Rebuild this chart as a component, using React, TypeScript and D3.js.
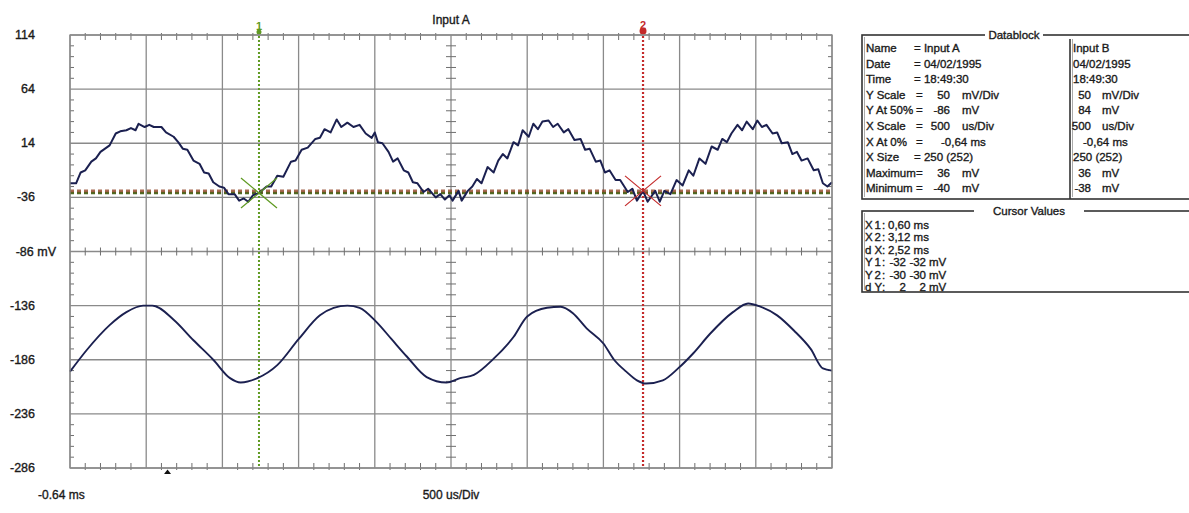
import React from 'react';
import * as d3 from 'd3';

const W = 1189;
const H = 513;
const PLOT = { left: 70, right: 832, top: 35, bottom: 468 };

// Acquisition settings
const X_AT_0_MS = -0.64;
const X_DIV_MS = 0.5;
const X_DIVS = 10;
const Y_DIV_MV = 50;
const Y_DIVS = 8;
const Y_AT_50_A = -86;
const Y_AT_50_B = 84;

const yTickLabels = [114, 64, 14, -36, -86, -136, -186, -236, -286];

// Channel A (rippled sine), time in ms, value in mV
const timeA = [
  -0.64, -0.6, -0.57, -0.54, -0.5, -0.47, -0.44, -0.38, -0.34, -0.31, -0.27, -0.24, -0.21, -0.19, -0.15, -0.12,
  -0.09, -0.04, -0.01, 0.04, 0.07, 0.1, 0.13, 0.17, 0.21, 0.24, 0.27, 0.3, 0.34, 0.37, 0.4, 0.44, 0.47, 0.5, 0.53,
  0.56, 0.6, 0.65, 0.68, 0.72, 0.76, 0.81, 0.84, 0.88, 0.92, 0.97, 1.0, 1.03, 1.07, 1.11, 1.14, 1.18, 1.22, 1.26,
  1.3, 1.34, 1.36, 1.38, 1.41, 1.45, 1.48, 1.51, 1.55, 1.58, 1.61, 1.64, 1.68, 1.71, 1.76, 1.79, 1.82, 1.85, 1.87,
  1.91, 1.93, 1.97, 2.0, 2.03, 2.06, 2.1, 2.14, 2.17, 2.2, 2.23, 2.27, 2.3, 2.33, 2.37, 2.4, 2.43, 2.46, 2.5, 2.53,
  2.56, 2.6, 2.63, 2.67, 2.71, 2.74, 2.77, 2.81, 2.84, 2.87, 2.9, 2.94, 2.97, 3.02, 3.05, 3.08, 3.12, 3.15, 3.2,
  3.23, 3.26, 3.3, 3.34, 3.38, 3.42, 3.45, 3.49, 3.53, 3.57, 3.61, 3.64, 3.67, 3.7, 3.74, 3.77, 3.8, 3.84, 3.87,
  3.9, 3.93, 3.97, 4.0, 4.03, 4.07, 4.1, 4.13, 4.16, 4.2, 4.24, 4.27, 4.3, 4.33, 4.36,
];
const inputA = [
  -23, -23, -13, -11, -3, 0, 6, 12, 23, 25, 26, 28, 26, 32, 29, 31,
  29, 29, 24, 20, 15, 9, 8, -2, -5, -13, -14, -22, -26, -27, -33, -33, -39, -37, -40,
  -34, -32, -26, -26, -16, -17, -3, -2, 8, 10, 18, 19, 27, 24, 36, 29, 33, 29, 31,
  23, 19, 24, 15, 14, 6, -3, 0, -11, -13, -22, -23, -31, -28, -36, -33, -38, -34, -39,
  -30, -39, -30, -26, -19, -23, -8, -13, -2, 4, 0, 15, 12, 26, 20, 32, 27, 34, 35, 29,
  32, 24, 27, 17, 18, 8, 9, -3, -2, -13, -11, -20, -20, -31, -28, -39, -30, -40, -30,
  -40, -30, -33, -20, -25, -11, -16, 0, -5, 11, 8, 18, 15, 23, 31, 26, 34, 27, 35,
  29, 31, 23, 24, 14, 15, 4, 6, -2, 0, -11, -10, -23, -26, -22,
];

// Channel B (clean sine), time in ms, value in mV
const timeB = [
  -0.64, -0.53, -0.38, -0.27, -0.16, -0.1, 0.04, 0.17, 0.3, 0.41, 0.48, 0.59, 0.72, 0.86, 1.0, 1.09, 1.18, 1.26,
  1.37, 1.47, 1.57, 1.7, 1.83, 1.92, 2.01, 2.14, 2.27, 2.36, 2.49, 2.58, 2.66, 2.75, 2.86, 2.93, 3.01, 3.08, 3.14,
  3.25, 3.35, 3.45, 3.56, 3.71, 3.81, 3.89, 4.0, 4.11, 4.22, 4.3, 4.36,
];
const inputB = [
  -27, -7, 16, 28, 34, 34, 21, 2, -16, -33, -37, -33, -21, 3, 25, 32, 34, 32,
  19, 3, -13, -32, -37, -33, -30, -15, 5, 24, 32, 33, 27, 13, -1, -16, -27, -35, -38,
  -35, -24, -10, 8, 28, 36, 33, 25, 11, -6, -24, -26,
];

// Cursor readings
const cursorTimes = [0.6, 3.12];
const cursorLevelsA = [-32, -30];
const cursorLevelsB = [-32, -30];

const recordDate = '04/02/1995';
const recordTime = '18:49:30';
const recordSize = '250 (252)';

const FONT = "'Liberation Sans', Arial, sans-serif";
const TRACE = '#1b2050';
const GRID = '#8a8a8a';
const GREEN = '#5f9a22';
const RED = '#c42a2a';
const INK = '#1a1a1a';

const fmtComma = (v: number) => v.toFixed(2).replace('.', ',');

export default function App() {
  const xEnd = X_AT_0_MS + X_DIVS * X_DIV_MS;
  const yTop = Y_AT_50_A + (Y_DIVS / 2) * Y_DIV_MV;
  const yBot = Y_AT_50_A - (Y_DIVS / 2) * Y_DIV_MV;
  const x = d3.scaleLinear().domain([X_AT_0_MS, xEnd]).range([PLOT.left, PLOT.right]);
  const y = d3.scaleLinear().domain([yBot, yTop]).range([PLOT.bottom, PLOT.top]);
  const offsetB = Y_AT_50_B - Y_AT_50_A;

  const lineA = d3
    .line<number>()
    .x((_, i) => x(timeA[i]))
    .y((d) => y(d));
  const lineB = d3
    .line<number>()
    .x((_, i) => x(timeB[i]))
    .y((d) => y(d - offsetB))
    .curve(d3.curveMonotoneX);

  const xMajor = d3.range(X_DIVS + 1).map((i) => X_AT_0_MS + i * X_DIV_MS);
  const yMajor = d3.range(Y_DIVS + 1).map((i) => yBot + i * Y_DIV_MV);
  const xMinor = d3.range(X_DIVS * 5 + 1).map((i) => X_AT_0_MS + (i * X_DIV_MS) / 5);
  const yMinor = d3.range(Y_DIVS * 5 + 1).map((i) => yBot + (i * Y_DIV_MV) / 5);
  const xMid = x(X_AT_0_MS + (X_DIVS / 2) * X_DIV_MS);
  const yMid = y(Y_AT_50_A);

  const maxA = d3.max(inputA)!;
  const minA = d3.min(inputA)!;
  const maxB = d3.max(inputB)!;
  const minB = d3.min(inputB)!;

  const dX = cursorTimes[1] - cursorTimes[0];
  const dYA = cursorLevelsA[1] - cursorLevelsA[0];
  const dYB = cursorLevelsB[1] - cursorLevelsB[0];

  // Datablock rows: label, channel A text parts, channel B text parts
  const rows: { label: string; eq: string; a?: string; au?: string; aStr?: string; b?: string; bu?: string; bStr?: string }[] = [
    { label: 'Name', eq: '= Input A', bStr: 'Input B' },
    { label: 'Date', eq: '= ' + recordDate, bStr: recordDate },
    { label: 'Time', eq: '= ' + recordTime, bStr: recordTime },
    { label: 'Y Scale', eq: '=', a: String(Y_DIV_MV), au: 'mV/Div', b: String(Y_DIV_MV), bu: 'mV/Div' },
    { label: 'Y At 50%', eq: '=', a: String(Y_AT_50_A), au: 'mV', b: String(Y_AT_50_B), bu: 'mV' },
    { label: 'X Scale', eq: '=', a: String(X_DIV_MS * 1000), au: 'us/Div', b: String(X_DIV_MS * 1000), bu: 'us/Div' },
    { label: 'X At 0%', eq: '=', aStr: fmtComma(X_AT_0_MS) + ' ms', bStr: fmtComma(X_AT_0_MS) + ' ms' },
    { label: 'X Size', eq: '= ' + recordSize, bStr: recordSize },
    { label: 'Maximum', eq: '=', a: String(maxA), au: 'mV', b: String(maxB), bu: 'mV' },
    { label: 'Minimum', eq: '=', a: String(minA), au: 'mV', b: String(minB), bu: 'mV' },
  ];

  // Cursor value rows: label glyphs, then values
  const cursorRows = [
    { label: ['X', '1', ':'], parts: [fmtComma(cursorTimes[0]) + ' ms'] },
    { label: ['X', '2', ':'], parts: [fmtComma(cursorTimes[1]) + ' ms'] },
    { label: ['d', 'X', ':'], parts: [fmtComma(dX) + ' ms'] },
    { label: ['Y', '1', ':'], parts: [String(cursorLevelsA[0]), String(cursorLevelsB[0]), 'mV'] },
    { label: ['Y', '2', ':'], parts: [String(cursorLevelsA[1]), String(cursorLevelsB[1]), 'mV'] },
    { label: ['d', 'Y', ':'], parts: [String(dYA), String(dYB), 'mV'] },
  ];

  const dbTop = 35;
  const dbBottom = 199;
  const dbRow0 = 48;
  const dbStep = 15.6;
  const cvTop = 211;
  const cvBottom = 292;
  const cvRow0 = 225;
  const cvStep = 12.4;
  const boxL = 862;
  const boxR = 1200;
  const colDiv = 1070;

  const crossA = { cx: x(cursorTimes[0]), cy: y(cursorLevelsA[0]) };
  const crossB = { cx: x(cursorTimes[1]), cy: y(cursorLevelsA[1]) };

  const thick = { stroke: INK, strokeWidth: 0.35 };

  return (
    <svg
      width={W}
      height={H}
      style={{ position: 'absolute', left: 0, top: 0, background: '#fff' }}
      fontFamily={FONT}
    >
      <rect x={0} y={0} width={W} height={H} fill="#fff" />

      {/* major grid */}
      <g stroke={GRID} strokeWidth={1.3}>
        {xMajor.map((t, i) => (
          <line key={'gx' + i} x1={x(t)} x2={x(t)} y1={PLOT.top} y2={PLOT.bottom} />
        ))}
        {yMajor.map((v, i) => (
          <line key={'gy' + i} x1={PLOT.left} x2={PLOT.right} y1={y(v)} y2={y(v)} />
        ))}
      </g>

      {/* minor ticks on frame and centre axes */}
      <g stroke="#6f6f6f" strokeWidth={1}>
        {xMinor.map((t, i) =>
          i % 5 === 0 ? null : (
            <g key={'mx' + i}>
              <line x1={x(t)} x2={x(t)} y1={PLOT.top - 2} y2={PLOT.top + 5} />
              <line x1={x(t)} x2={x(t)} y1={PLOT.bottom - 5} y2={PLOT.bottom + 2} />
              <line x1={x(t)} x2={x(t)} y1={yMid - 4} y2={yMid + 4} />
            </g>
          )
        )}
        {yMinor.map((v, i) =>
          i % 5 === 0 ? null : (
            <g key={'my' + i}>
              <line x1={PLOT.left} x2={PLOT.left + 4} y1={y(v)} y2={y(v)} />
              <line x1={PLOT.right - 4} x2={PLOT.right} y1={y(v)} y2={y(v)} />
              <line x1={xMid - 5} x2={xMid + 5} y1={y(v)} y2={y(v)} />
            </g>
          )
        )}
      </g>

      {/* y labels */}
      <g fontSize={12.5} fill={INK} {...thick}>
        {yTickLabels.map((v) => (
          <text key={'yl' + v} x={v === Y_AT_50_A ? 56 : 35} y={y(v)} textAnchor="end" dominantBaseline="central">
            {v === Y_AT_50_A ? `${v} mV` : v}
          </text>
        ))}
      </g>

      {/* title and time labels */}
      <g fontSize={12} fill={INK} {...thick}>
        <text x={xMid} y={20} textAnchor="middle" dominantBaseline="central">
          Input A
        </text>
        <text x={38} y={495} dominantBaseline="central">
          {X_AT_0_MS.toFixed(2)} ms
        </text>
        <text x={xMid} y={495} textAnchor="middle" dominantBaseline="central">
          {X_DIV_MS * 1000} us/Div
        </text>
      </g>
      {/* trigger marker */}
      <path d={`M${x(0) - 3.5},${PLOT.bottom + 6}L${x(0) + 3.5},${PLOT.bottom + 6}L${x(0)},${PLOT.bottom + 1.5}Z`} fill="#111" />

      {/* horizontal cursors */}
      <line x1={PLOT.left} x2={PLOT.right} y1={y(cursorLevelsA[0])} y2={y(cursorLevelsA[0])} stroke="#4f6a22" strokeWidth={2.6} strokeDasharray="4,3" />
      <line x1={PLOT.left} x2={PLOT.right} y1={y(cursorLevelsA[1])} y2={y(cursorLevelsA[1])} stroke="#8a3818" strokeOpacity={0.75} strokeWidth={2.6} strokeDasharray="4,3" />

      {/* vertical cursors */}
      <line x1={x(cursorTimes[0])} x2={x(cursorTimes[0])} y1={PLOT.top - 3} y2={PLOT.bottom} stroke={GREEN} strokeWidth={2} strokeDasharray="2,2" />
      <line x1={x(cursorTimes[1])} x2={x(cursorTimes[1])} y1={PLOT.top - 3} y2={PLOT.bottom} stroke={RED} strokeWidth={2.2} strokeDasharray="2,2" />
      <circle cx={x(cursorTimes[0])} cy={32} r={2.5} fill={GREEN} />
      <text x={x(cursorTimes[0])} y={26} textAnchor="middle" dominantBaseline="central" fontSize={11} fontWeight="bold" fill={GREEN}>
        1
      </text>
      <circle cx={x(cursorTimes[1])} cy={31} r={3.5} fill={RED} />
      <text x={x(cursorTimes[1])} y={25} textAnchor="middle" dominantBaseline="central" fontSize={11} fontWeight="bold" fill={RED}>
        2
      </text>

      {/* traces */}
      <path d={lineA(inputA)!} fill="none" stroke={TRACE} strokeWidth={2} strokeLinejoin="round" />
      <path d={lineB(inputB)!} fill="none" stroke={TRACE} strokeWidth={1.9} strokeLinejoin="round" />

      {/* cursor crosses */}
      <g stroke={GREEN} strokeWidth={1.2}>
        <line x1={crossA.cx - 18} y1={crossA.cy - 15} x2={crossA.cx + 18} y2={crossA.cy + 15} />
        <line x1={crossA.cx - 18} y1={crossA.cy + 15} x2={crossA.cx + 18} y2={crossA.cy - 15} />
      </g>
      <g stroke={RED} strokeWidth={1.2}>
        <line x1={crossB.cx - 18} y1={crossB.cy - 15} x2={crossB.cx + 18} y2={crossB.cy + 15} />
        <line x1={crossB.cx - 18} y1={crossB.cy + 15} x2={crossB.cx + 18} y2={crossB.cy - 15} />
      </g>

      {/* plot frame */}
      <rect x={PLOT.left} y={PLOT.top} width={PLOT.right - PLOT.left} height={PLOT.bottom - PLOT.top} fill="none" stroke={GRID} strokeWidth={1.3} />

      {/* Datablock panel */}
      <g fill="none" stroke="#333" strokeWidth={1.6}>
        <rect x={boxL} y={dbTop} width={boxR - boxL} height={dbBottom - dbTop} />
        <line x1={colDiv} x2={colDiv} y1={dbTop + 4} y2={dbBottom} />
        <rect x={boxL} y={cvTop} width={boxR - boxL} height={cvBottom - cvTop} />
      </g>
      <g fill="none" stroke="#aaa" strokeWidth={1}>
        <line x1={boxL + 2.5} x2={boxL + 2.5} y1={dbTop + 2} y2={dbBottom - 2} />
        <line x1={colDiv + 2.5} x2={colDiv + 2.5} y1={dbTop + 4} y2={dbBottom - 2} />
        <line x1={boxL + 2.5} x2={boxL + 2.5} y1={cvTop + 2} y2={cvBottom - 2} />
      </g>
      <rect x={985} y={dbTop - 6} width={58} height={12} fill="#fff" />
      <text x={1014} y={dbTop} textAnchor="middle" dominantBaseline="central" fontSize={11.5} fill={INK} {...thick}>
        Datablock
      </text>
      <rect x={974} y={cvTop - 6} width={110} height={12} fill="#fff" />
      <text x={1029} y={cvTop} textAnchor="middle" dominantBaseline="central" fontSize={11.5} fill={INK} {...thick}>
        Cursor Values
      </text>

      <g fontSize={11.5} fill={INK} {...thick}>
        {rows.map((r, i) => {
          const ry = dbRow0 + i * dbStep;
          return (
            <g key={'db' + i}>
              <text x={866} y={ry} dominantBaseline="central">{r.label}</text>
              <text x={r.eq === '=' ? 916 : 914} y={ry} dominantBaseline="central">{r.eq}</text>
              {r.a !== undefined && (
                <text x={950} y={ry} textAnchor="end" dominantBaseline="central">{r.a}</text>
              )}
              {r.au && <text x={962} y={ry} dominantBaseline="central">{r.au}</text>}
              {r.aStr && <text x={941} y={ry} dominantBaseline="central">{r.aStr}</text>}
              {r.b !== undefined && (
                <text x={1091} y={ry} textAnchor="end" dominantBaseline="central">{r.b}</text>
              )}
              {r.bu && <text x={1102} y={ry} dominantBaseline="central">{r.bu}</text>}
              {r.bStr && (
                <text x={r.label === 'X At 0%' ? 1083 : 1073} y={ry} dominantBaseline="central">
                  {r.bStr}
                </text>
              )}
            </g>
          );
        })}
        {cursorRows.map((r, i) => {
          const ry = cvRow0 + i * cvStep;
          const triple = r.parts.length === 3;
          return (
            <g key={'cv' + i}>
              <text x={865} y={ry} dominantBaseline="central">{r.label[0]}</text>
              <text x={874.5} y={ry} dominantBaseline="central">{r.label[1]}</text>
              <text x={882} y={ry} dominantBaseline="central">{r.label[2]}</text>
              {triple ? (
                <>
                  <text x={906} y={ry} textAnchor="end" dominantBaseline="central">{r.parts[0]}</text>
                  <text x={926} y={ry} textAnchor="end" dominantBaseline="central">{r.parts[1]}</text>
                  <text x={929} y={ry} dominantBaseline="central">{r.parts[2]}</text>
                </>
              ) : (
                <text x={888} y={ry} dominantBaseline="central">{r.parts[0]}</text>
              )}
            </g>
          );
        })}
      </g>
    </svg>
  );
}
